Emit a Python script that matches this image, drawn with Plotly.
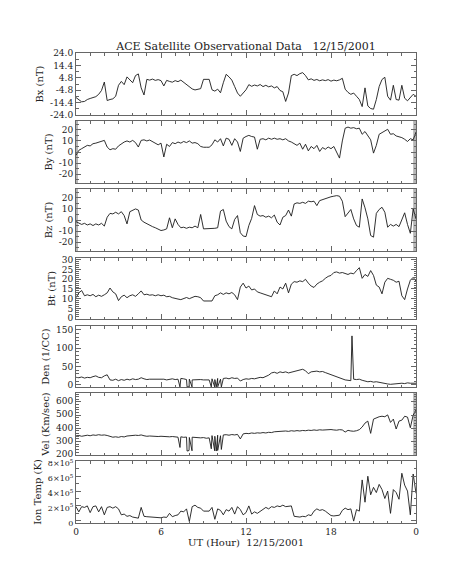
import numpy as np
import plotly.graph_objects as go

# sampling times (hours UT), 0.2 h cadence
STEP = 0.2
hours = [round(i * STEP, 1) for i in range(121)]

bx = [-10.5,-12.5,-13.8,-13.5,-12.0,-11.2,-10.2,-9.8,-8.0,-5.0,
      1.5,-12.8,-12.0,-11.5,-9.5,-1.0,2.0,-0.5,5.5,3.0,
      1.0,6.5,7.8,-3.0,-8.5,3.6,3.0,3.8,2.8,3.4,
      2.6,-1.5,2.8,2.0,1.4,2.6,1.8,3.0,1.2,-0.5,
      -2.5,-3.8,-4.6,-4.2,-3.6,3.6,3.6,3.6,-4.5,-5.5,
      -4.0,-6.8,1.0,7.5,5.5,3.0,-2.0,-7.0,-9.5,-6.5,
      -4.5,-0.5,-1.8,-0.8,-1.5,-0.4,-2.0,-1.0,-2.2,-1.5,
      -3.0,-2.0,-5.0,-6.0,-13.5,-7.0,6.5,7.5,6.5,8.0,
      8.8,6.5,3.2,4.0,2.8,3.5,2.5,3.2,2.6,3.4,
      2.2,3.0,2.5,3.2,4.4,-4.0,-6.5,-8.0,-7.0,-9.5,
      -12.0,-17.5,-3.0,-17.0,-19.0,-19.5,-12.0,-2.0,3.5,5.2,
      -9.5,-12.5,-1.0,-12.0,-12.5,-1.0,-11.0,-13.0,-10.5,-8.0,
      -9.5]

by = [-3.0,1.5,3.0,4.5,6.0,5.5,7.5,8.0,9.0,9.5,
      10.5,4.5,2.0,3.0,2.5,5.5,7.5,9.0,10.0,9.0,
      10.5,8.5,4.5,10.5,11.0,10.0,10.8,9.5,8.5,6.5,
      8.0,-4.5,7.0,5.0,8.5,7.5,9.0,8.0,9.5,8.5,
      10.0,8.0,8.5,7.5,5.0,4.3,4.3,4.3,6.5,11.0,
      9.0,12.0,5.5,12.5,11.5,6.0,12.0,9.0,0.5,12.5,
      14.0,15.0,14.0,13.5,2.5,11.5,12.0,11.0,12.5,11.5,
      12.5,11.5,12.0,11.0,12.0,10.0,9.0,7.5,6.0,8.0,
      2.5,7.0,1.0,5.0,3.0,6.0,0.5,4.0,2.5,4.5,
      3.0,5.0,-0.5,-5.5,10.0,21.5,22.5,21.5,22.0,21.0,
      21.5,16.0,18.5,15.0,11.0,-1.0,6.0,16.0,17.5,19.5,
      20.5,16.0,16.5,14.5,14.0,13.0,11.5,9.5,12.0,11.0,
      18.0]

bz = [-1.5,-2.5,-4.0,-3.0,-4.5,-3.5,-5.0,-3.5,-4.5,-3.0,
      -5.5,2.5,6.0,5.5,7.0,5.5,7.5,4.0,-3.5,7.5,
      8.5,10.0,9.0,0.0,-2.0,-3.5,-4.5,-6.0,-7.0,-8.5,
      -9.5,-9.0,-8.0,2.0,-7.0,1.0,-4.0,-7.0,-6.5,-7.5,
      -6.5,-7.0,-5.5,-7.0,5.0,-8.0,-8.0,-8.0,-8.0,-7.5,
      -7.0,8.0,9.5,-1.0,-6.0,-8.0,0.5,4.0,-11.5,-14.5,
      -15.0,-5.0,1.5,13.0,5.0,3.5,4.0,2.5,3.5,2.0,
      4.5,-2.0,-4.5,2.5,4.0,9.0,3.5,14.5,15.5,15.0,
      16.0,15.0,17.0,16.5,17.0,13.0,17.5,18.5,19.0,20.0,
      21.0,21.5,22.0,21.5,17.0,3.0,6.5,9.5,1.0,-5.0,
      -6.5,19.0,11.0,1.0,-14.0,-15.5,6.0,9.5,11.5,7.0,
      -6.5,-4.0,-5.5,-4.0,-6.0,1.0,6.5,-4.0,-12.0,10.0,
      1.0]

bt = [10.5,13.0,14.2,11.5,12.0,11.5,12.2,11.0,11.8,11.2,
      12.0,13.0,15.5,13.5,12.5,9.0,11.0,11.8,10.5,11.5,
      12.0,11.2,12.5,14.0,12.0,12.3,11.8,12.0,11.5,12.0,
      11.5,11.8,11.0,11.2,10.5,10.0,9.8,9.5,10.2,10.6,
      10.0,10.8,11.2,11.0,10.5,8.8,8.8,8.8,8.8,11.5,
      12.0,13.0,12.2,13.0,12.5,13.2,12.0,9.5,16.0,18.0,
      15.5,16.5,14.5,15.0,13.5,13.0,12.5,12.0,11.8,11.0,
      14.0,12.5,16.0,15.0,18.0,13.0,17.5,18.8,18.5,19.2,
      18.8,20.0,18.0,16.5,15.8,17.5,18.5,19.2,20.5,21.5,
      22.0,23.5,23.8,23.2,23.5,23.0,22.5,23.2,22.8,24.5,
      26.0,20.5,22.5,21.5,24.5,22.0,17.0,16.0,12.5,18.5,
      20.5,20.0,19.5,18.5,19.0,11.5,9.5,15.0,19.5,21.0,
      19.0]

den = [20,19,21,18,20,19,22,24,20,19,
       24,27,13,12,15,11,14,12,15,13,
       16,14,15,19,16,14,15,15,14,16,
       14,15,13,15,16,14,15,17,16,14,
       15,13,14,13,14,13,13,13,16,14,
       17,15,17,18,16,19,17,18,10,14,
       16,15,17,16,18,20,19,22,26,32,
       34,31,35,33,35,32,34,37,38,40,
       42,38,30,35,36,37,35,36,33,30,
       28,25,22,17,14,13,12,11,15,14,
       15,12,10,8,9,7,8,6,5,3,
       2,1,2,1,3,4,3,5,4,5,
       4]

vel = [343,346,340,345,348,344,350,347,352,348,
       350,346,338,333,336,332,338,335,342,345,
       343,348,346,350,344,340,342,339,341,338,
       340,337,339,336,338,335,333,336,332,334,
       331,333,330,332,328,330,325,328,345,340,
       348,344,350,352,348,353,350,354,320,358,
       362,360,365,362,366,364,368,365,370,368,
       374,376,373,378,380,377,382,379,383,380,
       384,382,386,384,388,385,389,387,390,388,
       391,388,386,390,388,372,385,380,378,382,
       390,410,440,455,362,470,482,488,492,488,
       502,445,470,395,455,462,492,485,405,500,
       540]

# ion temperature in units of 1e5 K
temp = [1.9,1.2,1.9,1.8,2.0,1.1,1.9,2.0,1.2,1.9,
        0.8,1.8,1.9,1.7,1.9,1.6,0.8,0.9,0.6,0.7,
        0.5,0.4,0.35,1.8,0.6,0.55,0.5,0.5,0.45,0.45,
        0.4,0.5,0.45,1.0,0.55,0.7,0.8,1.3,1.2,1.6,
        -0.1,1.9,2.1,1.8,1.7,1.3,1.3,1.3,1.8,0.2,
        1.6,1.4,0.8,1.5,1.3,1.8,0.9,1.9,1.5,0.8,
        1.1,2.0,0.9,1.2,1.0,1.3,1.5,1.8,1.6,1.9,
        1.8,2.0,1.9,2.1,1.9,2.0,2.0,0.6,0.55,0.5,
        0.6,0.55,0.8,0.7,1.3,1.6,1.4,1.5,1.3,1.0,
        0.7,0.65,0.7,0.75,1.4,1.7,1.5,1.6,-0.05,1.5,
        1.3,5.5,2.5,6.0,3.5,4.5,3.8,4.9,4.2,3.0,
        4.0,1.0,4.2,3.8,2.9,6.4,4.8,4.0,0.8,6.3,
        3.7]

# short drop-outs / spikes (time, value)
drop_t = [7.34, 7.84, 7.98, 8.19, 9.55, 9.79, 9.90, 10.00, 10.26]
den_drop = [-6, -6, -6, -6, -6, -6, -6, -6, -6]
vel_drop = [255, 228, 232, 230, 245, 230, 228, 232, 240]
den_spike_t = [19.48]
den_spike = [133]

def merge(t, v, st, sv):
    tt = list(t) + list(st)
    vv = list(v) + list(sv)
    order = np.argsort(tt, kind="stable")
    return [tt[i] for i in order], [vv[i] for i in order]

den_t, den_v = merge(hours, den, drop_t + den_spike_t, den_drop + den_spike)
vel_t, vel_v = merge(hours, vel, drop_t, vel_drop)

SUP = "×10<sup>5</sup>"
panels = [
    ("Bx (nT)", hours, bx, [-24, 24], [-24, -14.4, -4.8, 4.8, 14.4, 24],
     ["-24.0", "-14.4", "-4.8", "4.8", "14.4", "24.0"], 4.8, -24, 9, 0),
    ("By (nT)", hours, by, [-28, 28], [-20, -10, 0, 10, 20],
     ["-20", "-10", "0", "10", "20"], 5, 0, 9, 0),
    ("Bz (nT)", hours, bz, [-28, 28], [-20, -10, 0, 10, 20],
     ["-20", "-10", "0", "10", "20"], 5, 0, 9, 0),
    ("Bt (nT)", hours, bt, [-0.5, 31], [0, 5, 10, 15, 20, 25, 30],
     ["0", "5", "10", "15", "20", "25", "30"], 1, 0, 9, 0),
    ("Den (1/CC)", den_t, den_v, [-6.3, 160], [0, 50, 100, 150],
     ["0", "50", "100", "150"], 10, 0, 9, 0),
    ("Vel (Km/sec)", vel_t, vel_v, [198, 668], [200, 300, 400, 500, 600],
     ["200", "300", "400", "500", "600"], 20, 0, 9, -1),
    ("Ion Temp (K)", hours, temp, [-0.3, 8.05], [0, 2, 4, 6, 8],
     ["0", "2" + SUP, "4" + SUP, "6" + SUP, "8" + SUP], 1, 0, 8, 2),
]

W, H = 454, 567
L, R, T, B = 68, 46, 45, 52
plot_h = H - T - B
# panel pixel spans (top, bottom) measured from top of page
spans = [(45, 107), (113, 175), (181, 243), (250, 311), (318, 379), (385, 447), (453, 515)]

FONT = "DejaVu Serif"
FRAME = "#666666"

fig = go.Figure()
layout = {}
for i, (name, t, v, rng, tv, tt, mdt, m0, fs, shift) in enumerate(panels):
    k = i + 1
    xs = "x" if k == 1 else f"x{k}"
    ys = "y" if k == 1 else f"y{k}"
    fig.add_trace(go.Scatter(x=t, y=v, mode="lines", xaxis=xs, yaxis=ys,
                             line=dict(color="#1a1a1a", width=0.9),
                             showlegend=False, hoverinfo="skip"))
    top, bot = spans[i]
    dom = [(H - B - bot) / plot_h, (H - B - top) / plot_h]
    last = (k == 7)
    xname = "xaxis" if k == 1 else f"xaxis{k}"
    yname = "yaxis" if k == 1 else f"yaxis{k}"
    xa = dict(
        domain=[0, 1], anchor=ys, range=[0, 24],
        tickvals=[0, 6, 12, 18, 24], ticktext=["0", "6", "12", "18", "0"],
        showticklabels=last, ticks="inside", ticklen=5, tickcolor=FRAME,
        minor=dict(dtick=1, tick0=0, ticks="inside", ticklen=2.5, tickcolor=FRAME),
        showline=True, linecolor=FRAME, linewidth=1, mirror="ticks",
        showgrid=False, zeroline=False,
        tickfont=dict(family=FONT, size=9, color="#222"),
    )
    if last:
        xa["title"] = dict(text="UT (Hour)  12/15/2001",
                           font=dict(family=FONT, size=10, color="#222"), standoff=2)
    if k != 1:
        xa["matches"] = "x"
    layout[xname] = xa
    ya = dict(
        domain=dom, anchor=xs, range=rng, tickvals=tv, ticktext=tt,
        ticks="inside", ticklen=5, tickcolor=FRAME,
        minor=dict(dtick=mdt, tick0=m0, ticks="inside", ticklen=2.5, tickcolor=FRAME),
        showline=True, linecolor=FRAME, linewidth=1, mirror="ticks",
        showgrid=False, zeroline=False,
        tickfont=dict(family=FONT, size=fs, color="#222"),
        title=dict(text=name, font=dict(family=FONT, size=10, color="#222"), standoff=4),
    )
    if shift:
        ya["ticklabelshift"] = shift
    layout[yname] = ya

# grey quality bands at panel edges (By, Bz, Vel)
shapes = []
for k, sides in [(2, ("L", "R")), (3, ("L", "R")), (6, ("R",))]:
    ys = "y" if k == 1 else f"y{k}"
    xs = "x" if k == 1 else f"x{k}"
    for s in sides:
        x0, x1 = (0, 0.14) if s == "L" else (23.8, 24)
        shapes.append(dict(type="rect", xref=xs, yref=f"{ys} domain",
                           x0=x0, x1=x1, y0=0, y1=1, fillcolor="#b5b5b5",
                           line=dict(width=0), layer="below"))

fig.update_layout(
    width=W, height=H, margin=dict(l=L, r=R, t=T, b=B),
    paper_bgcolor="white", plot_bgcolor="white",
    title=dict(text="ACE Satellite Observational Data   12/15/2001",
               x=(L + (W - L - R) / 2) / W, xanchor="center",
               y=1 - 38 / H, yanchor="middle",
               font=dict(family=FONT, size=11, color="#222")),
    shapes=shapes,
    **layout,
)

fig.write_html("out.html")
